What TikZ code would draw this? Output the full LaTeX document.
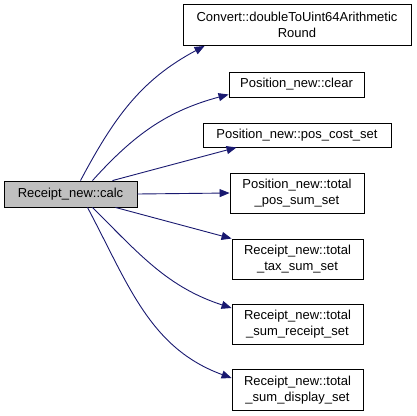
\documentclass[tikz,border=0pt]{standalone}
\usepackage{fontspec}
\setmainfont{Liberation Sans}
\usepackage{xcolor}
\usetikzlibrary{positioning,calc,arrows.meta}
\definecolor{edgeblue}{HTML}{191970}

\begin{document}
\begin{tikzpicture}[
    x=1pt, y=-1pt,
    fn/.style={rectangle, draw=black, line width=0.9pt, fill=white, align=center, inner sep=1pt, font=\fontsize{13}{15.5}\selectfont},
    root/.style={fn, fill=black!25},
    call/.style={-{Triangle[length=10pt,width=8pt]}, draw=edgeblue, line width=0.9pt},
]
\useasboundingbox (0,0) rectangle (416,416);
\node[root, minimum width=133pt, minimum height=26pt] (calc) at (70.5,194) {Receipt\_new::calc};
\node[fn, minimum width=228pt, minimum height=41pt] (conv) at (297,25) {Convert::doubleToUint64Arithmetic\\Round};
\node[fn, minimum width=135pt, minimum height=25pt] (clear) at (296.5,84.5) {Position\_new::clear};
\node[fn, minimum width=188pt, minimum height=24pt] (cost) at (297,135) {Position\_new::pos\_cost\_set};
\node[fn, minimum width=134pt, minimum height=40pt] (possum) at (297,193) {Position\_new::total\\\_pos\_sum\_set};
\node[fn, minimum width=131pt, minimum height=40pt] (taxsum) at (297.5,259) {Receipt\_new::total\\\_tax\_sum\_set};
\node[fn, minimum width=131pt, minimum height=40pt] (rcptsum) at (297.5,324) {Receipt\_new::total\\\_sum\_receipt\_set};
\node[fn, minimum width=131pt, minimum height=41pt] (dispsum) at (297.5,390) {Receipt\_new::total\\\_sum\_display\_set};

% calls fanning out of calc
\draw[call] ($(calc.north)+(10,0)$) to[out=62, in=208] ($(conv.south west)+(22,0)$);
\draw[call] ($(calc.north)+(22,0)$) to[out=48, in=195] ($(clear.west)+(0,10)$);
\draw[call] ($(calc.north)+(42,0)$) -- ($(cost.south west)+(34,0)$);
\draw[call] (calc.east) -- (possum.west);
\draw[call] ($(calc.south)+(45,0)$) -- (taxsum.north west);
\draw[call] ($(calc.south)+(22,0)$) to[out=-45, in=162] ($(rcptsum.west)+(0,-16)$);
\draw[call] ($(calc.south)+(17,0)$) to[out=-62, in=160] ($(dispsum.west)+(0,-12)$);
\end{tikzpicture}
\end{document}
